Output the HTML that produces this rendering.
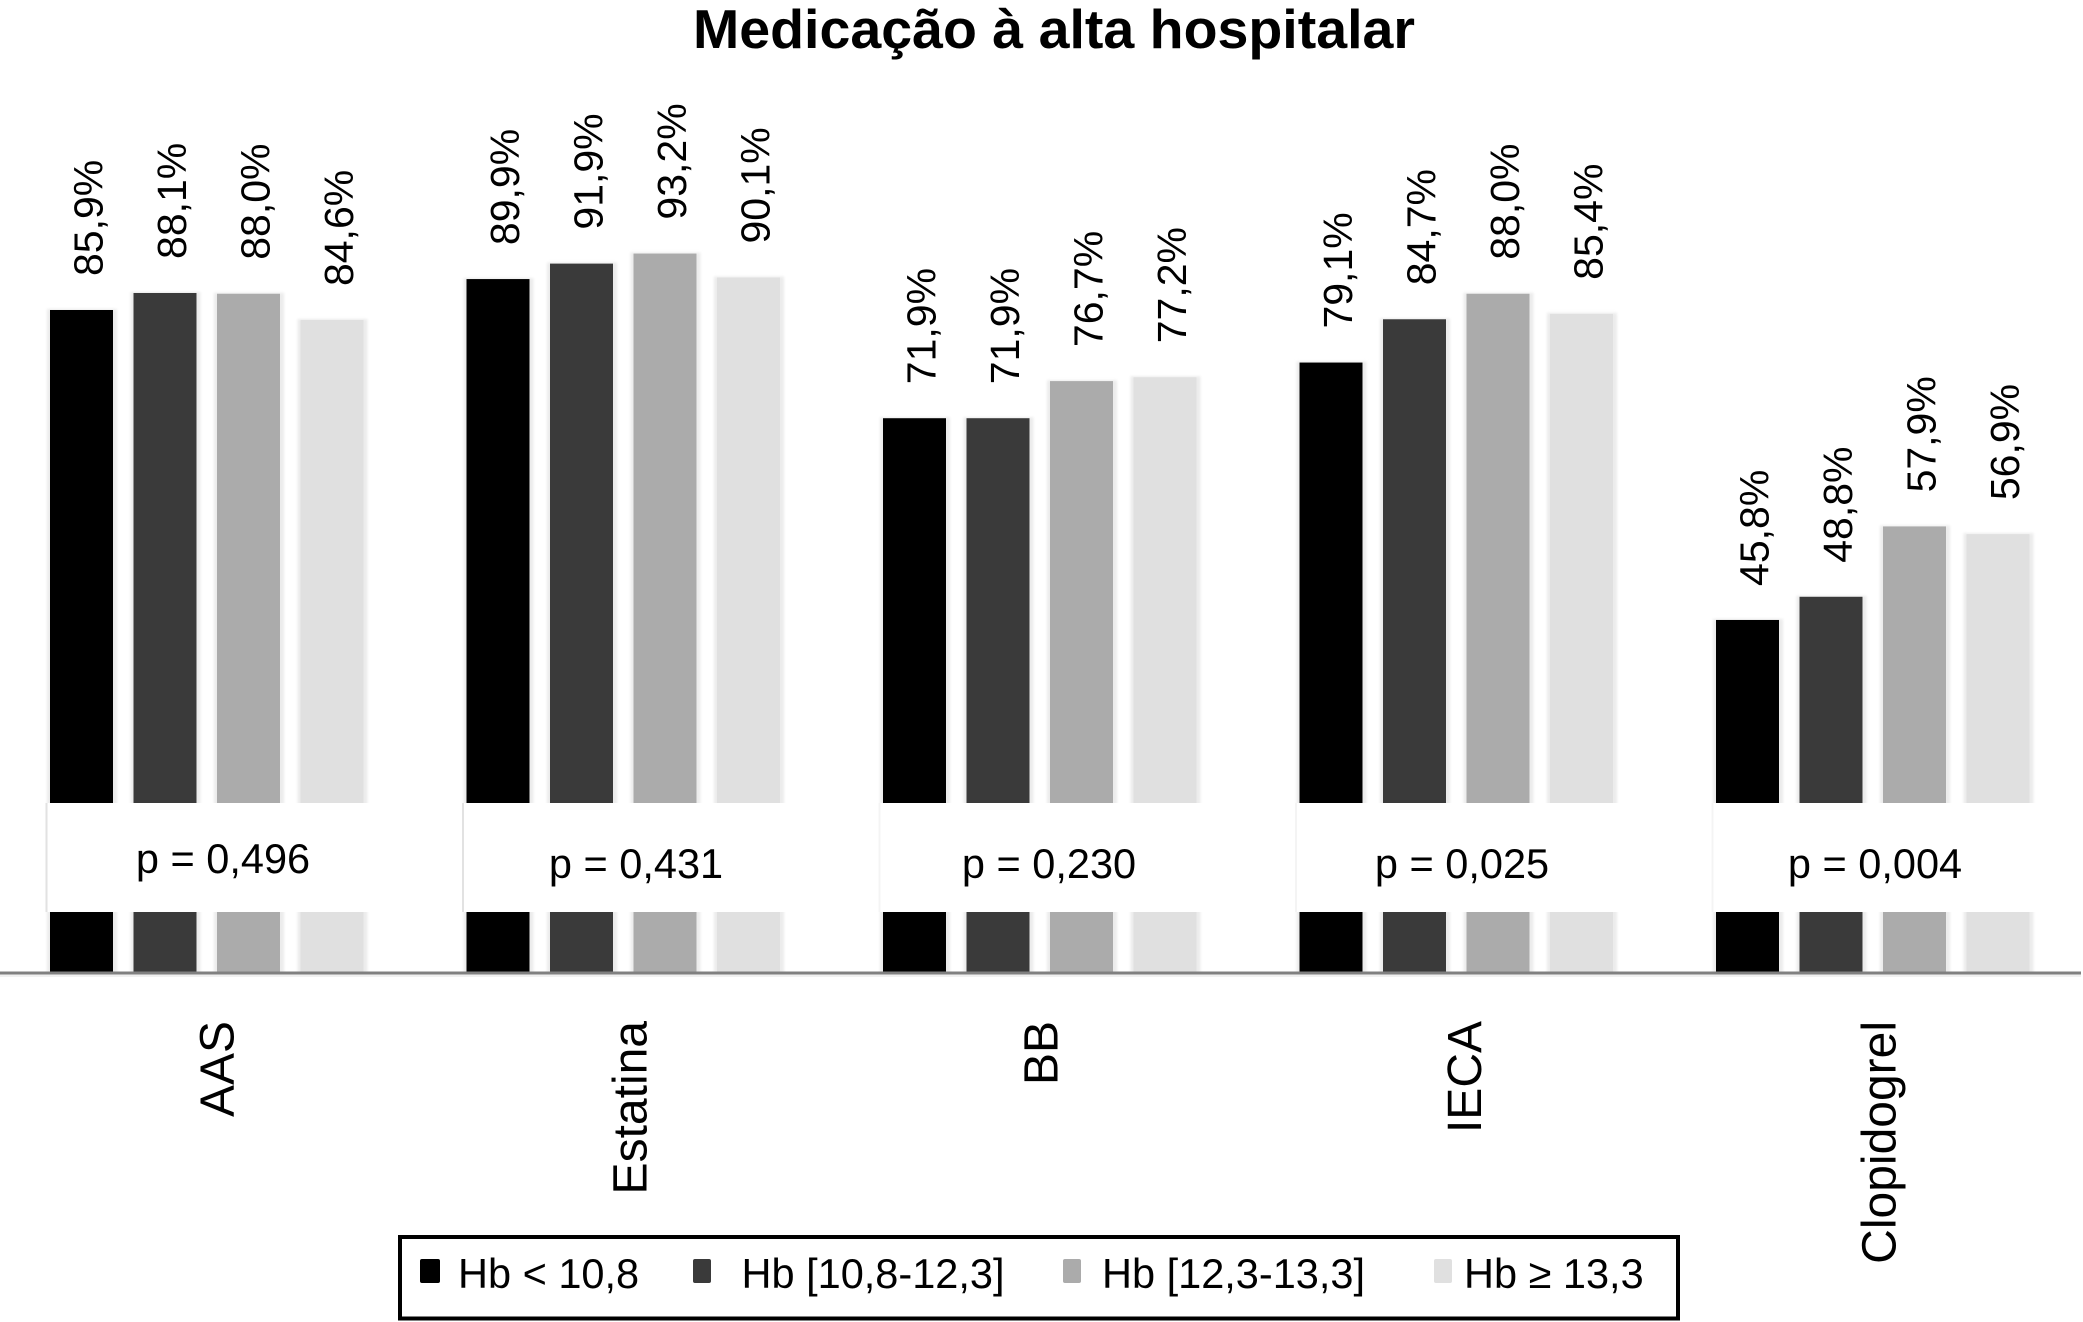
<!DOCTYPE html>
<html lang="pt">
<head>
<meta charset="utf-8">
<title>Medicação à alta hospitalar</title>
<style>
html,body{margin:0;padding:0;background:#fff;width:2083px;height:1322px;overflow:hidden}
svg{display:block;font-family:"Liberation Sans",Arial,sans-serif}
text{fill:#000}
</style>
</head>
<body>
<svg id="chart" xmlns="http://www.w3.org/2000/svg" width="2083" height="1322" viewBox="0 0 2083 1322">
  <defs>
    <filter id="soft" x="-30%" y="-5%" width="160%" height="110%"><feGaussianBlur stdDeviation="1.2"/></filter>
  </defs>
  <rect x="0" y="0" width="2083" height="1322" fill="#fff"/>
  <text x="693" y="48" font-size="55" font-weight="700" textLength="722" lengthAdjust="spacingAndGlyphs">Medicação à alta hospitalar</text>
  <g id="halos" filter="url(#soft)"></g>
  <g id="bars"></g>
  <g id="band"></g>
  <rect x="0" y="974" width="2081" height="3" fill="#f0f0f0"/>
  <rect x="0" y="971.5" width="2081" height="3" fill="#808080"/>
  <g id="value-labels" font-size="41"></g>
  <g id="p-labels" font-size="41.5" text-anchor="middle"></g>
  <g id="category-labels" font-size="48"></g>
  <g>
    <rect x="400" y="1237" width="1278" height="81.5" fill="#fff" stroke="#000" stroke-width="4"/>
    <g>
      <rect x="420" y="1259" width="20" height="24" rx="2" fill="#000"/>
      <text x="458" y="1288" font-size="41.5">Hb &lt; 10,8</text>
    </g>
    <g>
      <rect x="693" y="1259" width="18" height="24" rx="2" fill="#3a3a3a"/>
      <text x="741.5" y="1288" font-size="41.5">Hb [10,8-12,3]</text>
    </g>
    <g>
      <rect x="1063" y="1259" width="18" height="24" rx="2" fill="#ababab"/>
      <text x="1102" y="1288" font-size="41.5">Hb [12,3-13,3]</text>
    </g>
    <g>
      <rect x="1434" y="1259" width="18" height="24" rx="2" fill="#e0e0e0"/>
      <text x="1464" y="1288" font-size="41.5">Hb ≥ 13,3</text>
    </g>
  </g>
</svg>
<script>
const categories = ["AAS", "Estatina", "BB", "IECA", "Clopidogrel"];
const hbLow  = [85.9, 89.9, 71.9, 79.1, 45.8];
const hbMid  = [88.1, 91.9, 71.9, 84.7, 48.8];
const hbHigh = [88.0, 93.2, 76.7, 88.0, 57.9];
const hbTop  = [84.6, 90.1, 77.2, 85.4, 56.9];
const pValues = ["0,496", "0,431", "0,230", "0,025", "0,004"];
const seriesList = [hbLow, hbMid, hbHigh, hbTop];
const seriesColors = ["#000000", "#3a3a3a", "#ababab", "#e0e0e0"];

const NS = "http://www.w3.org/2000/svg";
const baselineY = 973;
const pxPerPercent = 7.73;
const barWidth = 63;
const yScale = v => baselineY - v * pxPerPercent;
const groupX = i => 50 + i * 416.5;
const barX = (i, s) => groupX(i) + s * 83.5;
const pCenter = i => 223 + i * 413;
const catX = i => 233.5 + i * 415.5 - (i === 1 ? 2.5 : i === 2 ? 7 : i === 3 ? -1 : 0);
const fmt = v => v.toFixed(1).replace(".", ",") + "%";

function mk(tag, attrs, parent, txt) {
  const el = document.createElementNS(NS, tag);
  for (const k in attrs) el.setAttribute(k, attrs[k]);
  if (txt !== undefined) el.textContent = txt;
  parent.appendChild(el);
  return el;
}
const halos = document.getElementById("halos");
const bars = document.getElementById("bars");
const band = document.getElementById("band");
const valueLabels = document.getElementById("value-labels");
const pLabels = document.getElementById("p-labels");
const categoryLabels = document.getElementById("category-labels");

categories.forEach((cat, i) => {
  seriesList.forEach((series, s) => {
    const x = barX(i, s), top = yScale(series[i]);
    const halo = mk("rect", {x: x - 3, y: top, width: barWidth + 7, height: baselineY - top, fill: "#ececec"}, halos);
    
    
    const bar = mk("rect", {x: x, y: top + 1, width: barWidth, height: baselineY - top - 1, fill: seriesColors[s]}, bars);
    
    
    const lx = x + barWidth / 2 + 21, ly = top - 33;
    const lab = mk("text", {x: lx, y: ly, transform: "rotate(-90 " + lx + " " + ly + ")"}, valueLabels, fmt(series[i]));
    
    
  });
});

const bandRect = mk("rect", {x: 0, y: 803, width: 2083, height: 109, fill: "#fff"}, band);



categories.forEach((cat, i) => {
  const edgeFill = i < 2 ? "#e2e2e2" : "#f4f4f4";
  const edge = mk("rect", {x: groupX(i) - 4.5, y: 803, width: 2, height: 109, fill: edgeFill}, band);
  
  
  const pl = mk("text", {x: pCenter(i), y: i === 0 ? 873 : 878}, pLabels, "p = " + pValues[i]);
  
  
  const cx = catX(i), cy = 1021;
  const cl = mk("text", {x: cx, y: cy, "text-anchor": "end", transform: "rotate(-90 " + cx + " " + cy + ")"}, categoryLabels, cat);
  
  
});
</script>
</body>
</html>
